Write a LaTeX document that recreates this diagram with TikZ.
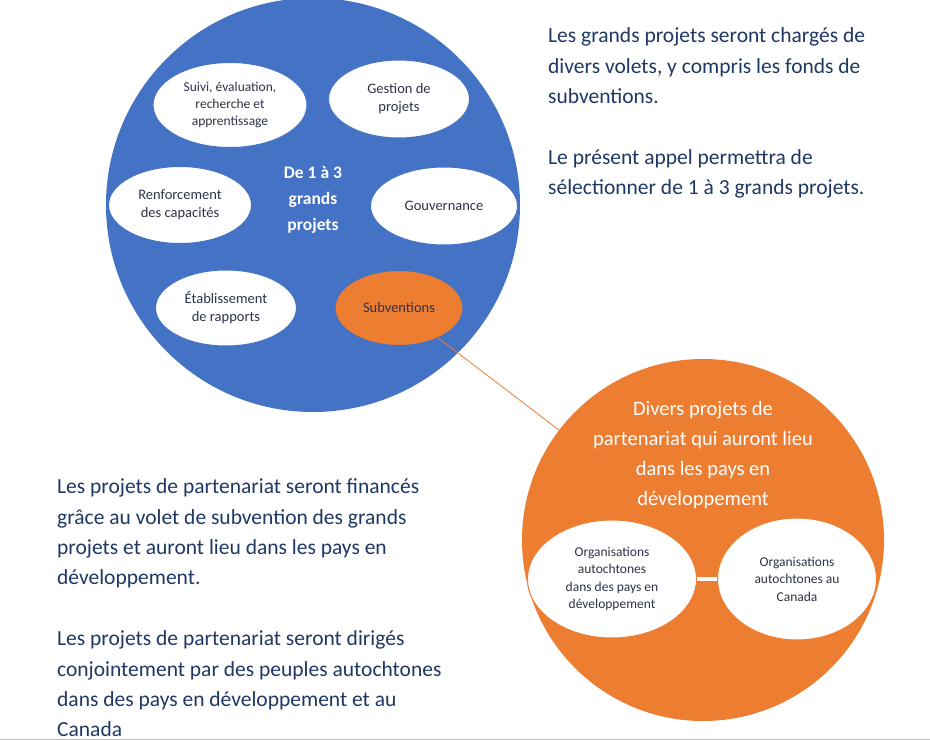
\documentclass[tikz,border=0pt]{standalone}
\usepackage{fontspec}
\setmainfont{Carlito}
\definecolor{cblue}{HTML}{4472C4}
\definecolor{corange}{HTML}{ED7D31}
\definecolor{navy}{HTML}{1F3864}
\definecolor{etext}{HTML}{2F3349}
\begin{document}
\begin{tikzpicture}[x=1pt,y=-1pt,
  ell/.style={ellipse,fill=white,draw=cblue,line width=1pt,inner sep=0pt,text=etext,align=center,font=\fontsize{13.5}{17}\selectfont},
  para/.style={text=navy,align=left,font=\fontsize{21.5}{30.4}\selectfont,inner sep=0pt}]
\usetikzlibrary{shapes.geometric}
\useasboundingbox (0,0) rectangle (930,741);
\fill[white] (0,0) rectangle (930,741);
\draw[gray!50,line width=1pt] (0,739) -- (930,739);
\node[circle,fill=cblue,minimum size=414pt,inner sep=0pt] (big) at (313,205) {};
\node[text=white,align=center,font=\bfseries\fontsize{17.5}{26}\selectfont] (bt) at (313,200) {De 1 à 3\\grands\\projets};
\node[ell,minimum width=154pt,minimum height=85pt] (suivi) at (230,105) {Suivi, évaluation,\\recherche et\\apprentissage};
\node[ell,minimum width=141pt,minimum height=78pt,font=\fontsize{14.5}{18}\selectfont] (gest) at (399,99) {Gestion de\\projets};
\node[ell,minimum width=143pt,minimum height=77pt,font=\fontsize{14.5}{18}\selectfont] (renf) at (180,205) {Renforcement\\des capacités};
\node[ell,minimum width=147pt,minimum height=78pt,font=\fontsize{14.5}{18}\selectfont] (gouv) at (444,206) {Gouvernance};
\node[ell,minimum width=141pt,minimum height=76pt,font=\fontsize{14.5}{18}\selectfont] (etab) at (226,308) {Établissement\\de rapports};
\node[ell,fill=corange,minimum width=128pt,minimum height=75pt,font=\fontsize{14.5}{18}\selectfont] (subv) at (399,308) {Subventions};
\node[circle,fill=corange,minimum size=362pt,inner sep=0pt] (orc) at (703,540) {};
\draw[corange,line width=0.8pt] (subv) -- (orc);
\node[text=white,align=center,font=\fontsize{20.5}{30}\selectfont] (ot) at (703,455) {Divers projets de\\partenariat qui auront lieu\\dans les pays en\\développement};
\node[ell,draw=corange,minimum width=169pt,minimum height=118pt,font=\fontsize{13.5}{17.5}\selectfont] (org1) at (612,579) {Organisations\\autochtones\\dans des pays en\\développement};
\node[ell,draw=corange,minimum width=159pt,minimum height=122pt,font=\fontsize{13.5}{17.5}\selectfont] (org2) at (797,579) {Organisations\\autochtones au\\Canada};
\draw[white,line width=4pt] (org1) -- (org2);
\node[para,anchor=west] (p1) at (548,113) {Les grands projets seront chargés de\\divers volets, y compris les fonds de\\subventions.\\[30.4pt]Le présent appel permettra de\\sélectionner de 1 à 3 grands projets.};
\node[para,anchor=west] (p2) at (57,608) {Les projets de partenariat seront financés\\grâce au volet de subvention des grands\\projets et auront lieu dans les pays en\\développement.\\[30.4pt]Les projets de partenariat seront dirigés\\conjointement par des peuples autochtones\\dans des pays en développement et au\\Canada};
\end{tikzpicture}
\end{document}
